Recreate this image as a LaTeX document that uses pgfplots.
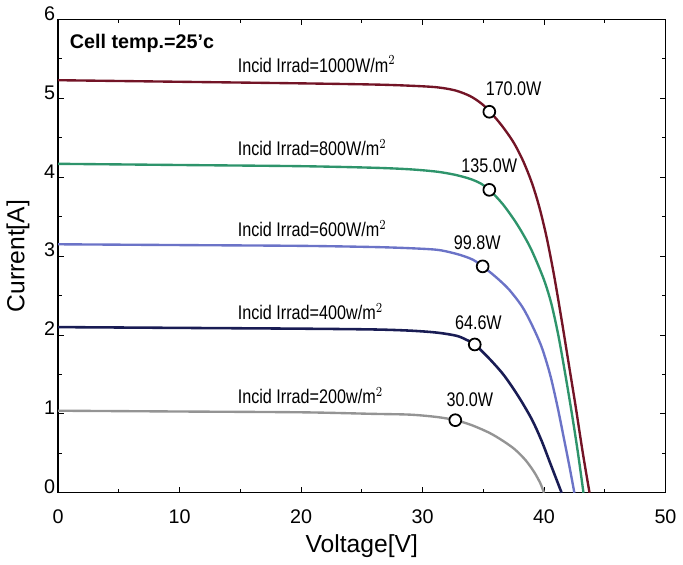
\documentclass[border=0pt]{standalone}
\usepackage{graphicx}
\usepackage{fontspec}
\setmainfont{Liberation Sans}
\usepackage{pgfplots}
\pgfplotsset{compat=1.18}
\definecolor{cred}{rgb}{0.45,0.08,0.15}
\definecolor{cgreen}{rgb}{0.18,0.58,0.42}
\definecolor{cblue}{rgb}{0.42,0.45,0.78}
\definecolor{cnavy}{rgb}{0.10,0.11,0.33}
\definecolor{cgray}{rgb}{0.58,0.58,0.58}
\newcommand{\nar}[1]{\scalebox{0.82}[1]{#1}}
\begin{document}
\begin{tikzpicture}
\begin{axis}[
  scale only axis, width=308pt, height=240pt,
  xmin=0, xmax=50, ymin=0, ymax=6,
  xtick={0,10,...,50}, ytick={0,1,...,6},
  minor xtick={5,15,...,45}, minor ytick={0.5,1.5,...,5.5},
  tick align=inside, major tick length=3pt, minor tick length=2pt,
  axis line style={line width=0.6pt}, every tick/.style={black, line width=0.5pt},
  /pgf/number format/assume math mode=true,
  ticklabel style={font=\fontsize{10}{12}\selectfont},
  xticklabel style={yshift=-5pt},
  yticklabel style={xshift=2pt, yshift=3pt},
  xlabel={Voltage[V]}, ylabel={Current[A]},
  label style={font=\fontsize{12.5}{14}\selectfont},
  xlabel style={yshift=1pt},
  ylabel style={yshift=0.5pt},
  clip=false,
]
\addplot[cred, line width=1.2pt, smooth] coordinates {(0,5.23)(10,5.21)(20,5.19)(26,5.175)(29,5.16)(31.2,5.14)(32.7,5.1)(33.9,5.03)(34.8,4.94)(35.5,4.84)(36.5,4.66)(37.5,4.44)(38.3,4.2)(39.0,3.93)(39.6,3.63)(40.2,3.25)(40.8,2.78)(41.4,2.24)(42.0,1.67)(42.6,1.1)(43.2,0.5)(43.75,0)};
\addplot[cgreen, line width=1.2pt, smooth] coordinates {(0,4.17)(10,4.155)(20,4.14)(26,4.12)(29,4.10)(31.2,4.07)(32.7,4.03)(33.9,3.98)(34.8,3.92)(35.5,3.84)(36.6,3.66)(37.8,3.4)(38.9,3.1)(39.95,2.72)(40.6,2.4)(41.2,1.98)(41.8,1.46)(42.35,0.95)(42.8,0.5)(43.25,0)};
\addplot[cblue, line width=1.2pt, smooth] coordinates {(0,3.15)(10,3.14)(20,3.13)(26,3.115)(29,3.10)(31.2,3.08)(32.5,3.04)(33.4,3.0)(34.2,2.95)(34.95,2.87)(36,2.74)(37.1,2.58)(38.2,2.36)(39.0,2.13)(39.8,1.85)(40.5,1.5)(41.1,1.1)(41.6,0.72)(42.1,0.33)(42.5,0)};
\addplot[cnavy, line width=1.3pt, smooth] coordinates {(0,2.1)(10,2.09)(20,2.08)(26,2.07)(29,2.055)(31.2,2.03)(32.8,1.99)(33.6,1.94)(34.3,1.88)(35.5,1.7)(36.7,1.49)(37.9,1.22)(39.0,0.93)(39.8,0.66)(40.5,0.38)(41.0,0.18)(41.45,0)};
\addplot[cgray, line width=1.2pt, smooth] coordinates {(0,1.04)(10,1.03)(20,1.02)(26,1.0)(29,0.99)(31.2,0.96)(32.7,0.92)(34,0.86)(35.5,0.76)(36.6,0.66)(37.6,0.55)(38.5,0.41)(39.2,0.26)(39.7,0.12)(40.0,0)};
\addplot[only marks, mark=*, mark size=3pt, mark options={draw=black, fill=white, line width=0.9pt}] coordinates {(35.5,4.83)(35.5,3.84)(34.95,2.87)(34.3,1.88)(32.7,0.92)};
\node[anchor=west, font=\bfseries\fontsize{10}{12}\selectfont] at (axis cs:0.4,5.7) {Cell temp.=25'c};
\begin{scope}[every node/.style={font=\fontsize{10}{12}\selectfont, inner sep=1pt}]
\node[anchor=south west] at (axis cs:14.6,5.30) {\nar{Incid Irrad=1000W/m$^{2}$}};
\node[anchor=south west] at (axis cs:14.6,4.24) {\nar{Incid Irrad=800W/m$^{2}$}};
\node[anchor=south west] at (axis cs:14.6,3.21) {\nar{Incid Irrad=600W/m$^{2}$}};
\node[anchor=south west] at (axis cs:14.6,2.16) {\nar{Incid Irrad=400w/m$^{2}$}};
\node[anchor=south west] at (axis cs:14.6,1.10) {\nar{Incid Irrad=200w/m$^{2}$}};
\node at (axis cs:37.5,5.12) {\nar{170.0W}};
\node at (axis cs:35.5,4.14) {\nar{135.0W}};
\node at (axis cs:34.5,3.17) {\nar{99.8W}};
\node at (axis cs:34.6,2.16) {\nar{64.6W}};
\node at (axis cs:33.9,1.18) {\nar{30.0W}};
\end{scope}
\end{axis}
\end{tikzpicture}
\end{document}
